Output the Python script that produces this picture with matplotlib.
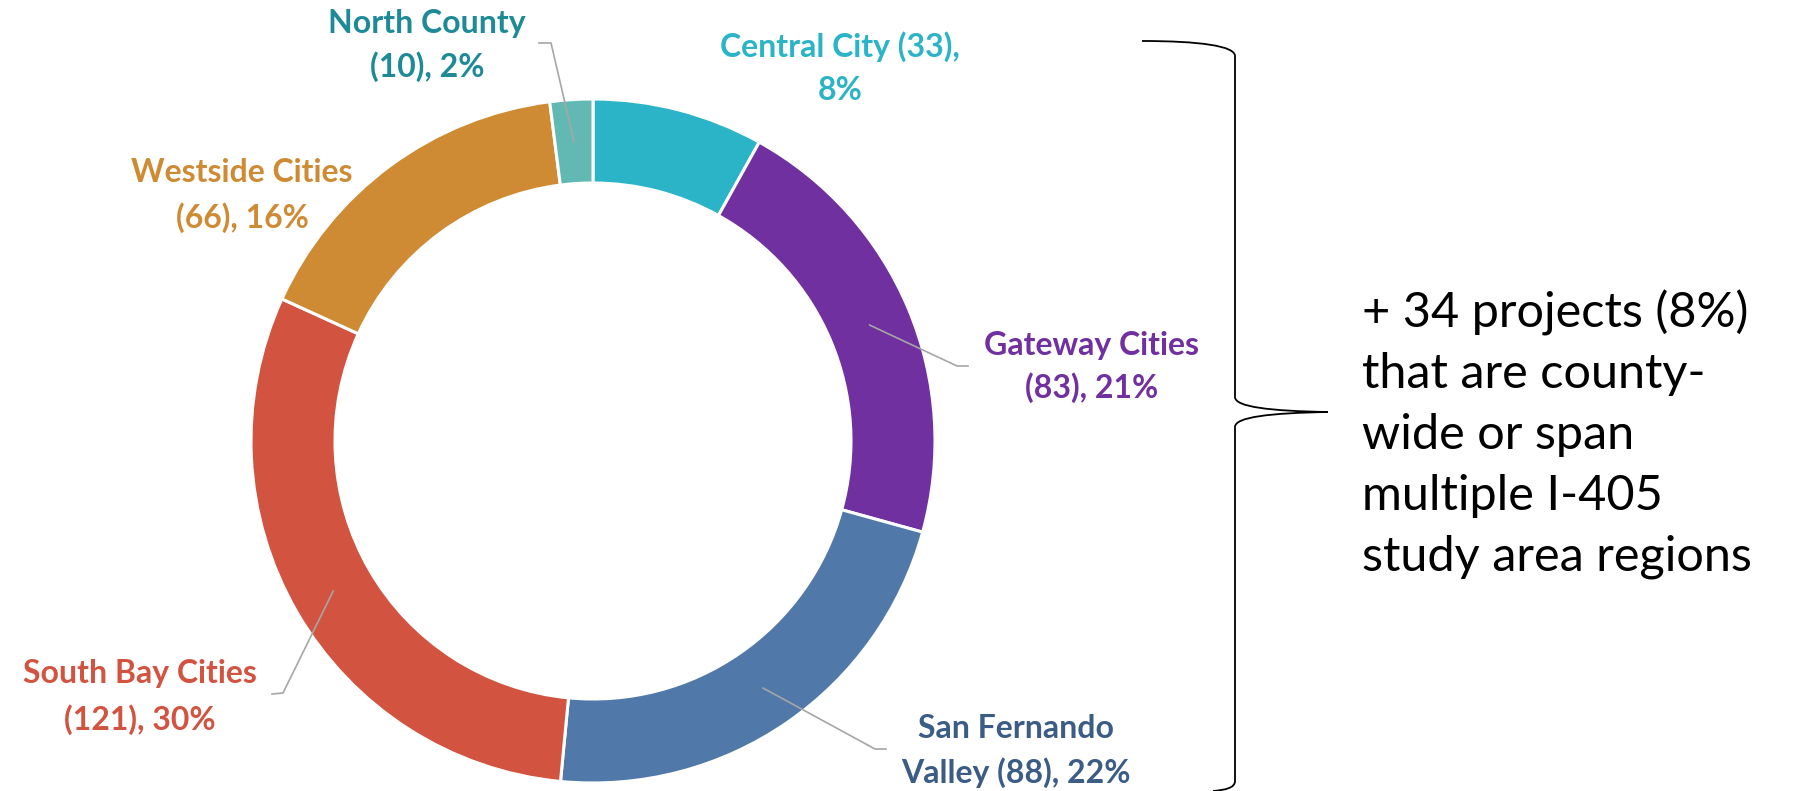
import matplotlib
matplotlib.use("Agg")
import matplotlib.pyplot as plt
from matplotlib.path import Path
from matplotlib.patches import PathPatch
import numpy as np

# Data (clockwise from 12 o'clock)
regions = ["Central City", "Gateway Cities", "San Fernando Valley",
           "South Bay Cities", "Westside Cities", "North County"]
projects = [33, 83, 88, 121, 66, 10]
percents = [8, 21, 22, 30, 16, 2]   # wedges are drawn from the rounded shares
wedge_colors = ["#2BB3C7", "#7030A0", "#5079A9", "#D25440", "#CF8B34", "#62B9B3"]
text_colors = ["#2BB3C7", "#7030A0", "#3B5C85", "#D25440", "#CF8B34", "#1E8A98"]
break_after = [3, 2, 2, 3, 2, 2]   # words on first label line
extra_projects = 34
extra_pct = 8

W, H = 1818, 791
def Y(y):
    return H - y

fig = plt.figure(figsize=(W / 100, H / 100), dpi=100)
ax = fig.add_axes([0, 0, 1, 1])

cx, cy, R, ring = 593, 441, 342, 84
ax.pie(percents, colors=wedge_colors, startangle=90, counterclock=False,
       radius=R, center=(cx, Y(cy)),
       wedgeprops=dict(width=ring, edgecolor="white", linewidth=2.2))
ax.set_xlim(0, W)
ax.set_ylim(0, H)
ax.set_aspect("equal")
ax.axis("off")

label_font = dict(family=["Lato", "DejaVu Sans"], fontsize=23, fontweight="bold")

# label centers (px) for line 1 / line 2, and leader elbows (None = no leader)
label_pos = [(840, 47, 90), (1092, 345, 388), (1016, 728, 773),
             (140, 673, 720), (242, 173, 218), (427, 23, 67)]
leaders = [None, [(957, 366), (968, 366)], [(875, 749), (886, 749)],
           [(283, 693), (272, 694)], None, [(551, 43), (539, 43)]]

total = sum(percents)
cum = np.cumsum([0] + percents)
for i, name in enumerate(regions):
    words = f"{name} ({projects[i]}), {percents[i]}%".split()
    line1 = " ".join(words[:break_after[i]])
    line2 = " ".join(words[break_after[i]:])
    x, y1, y2 = label_pos[i]
    ax.text(x, Y(y1), line1, ha="center", va="center", color=text_colors[i], **label_font)
    ax.text(x, Y(y2), line2, ha="center", va="center", color=text_colors[i], **label_font)
    if leaders[i] is not None:
        ang = np.deg2rad((cum[i] + percents[i] / 2) / total * 360)
        rm = R - ring / 2
        sx, sy = cx + rm * np.sin(ang), cy - rm * np.cos(ang)
        pts = [(sx, sy)] + leaders[i]
        ax.plot([p[0] for p in pts], [Y(p[1]) for p in pts], color="#A6A6A6", lw=1.2)

# curly brace
verts = [(1142, 41), (1200, 41), (1235, 46), (1235, 56),
         (1235, 397),
         (1235, 407), (1270, 411), (1328, 412),
         (1270, 413), (1235, 417), (1235, 427),
         (1235, 781),
         (1235, 788), (1225, 790), (1213, 791)]
codes = [Path.MOVETO, Path.CURVE4, Path.CURVE4, Path.CURVE4,
         Path.LINETO,
         Path.CURVE4, Path.CURVE4, Path.CURVE4,
         Path.CURVE4, Path.CURVE4, Path.CURVE4,
         Path.LINETO,
         Path.CURVE4, Path.CURVE4, Path.CURVE4]
brace = Path([(vx, Y(vy)) for vx, vy in verts], codes)
ax.add_patch(PathPatch(brace, facecolor="none", edgecolor="black", lw=1.3))

side_lines = [f"+ {extra_projects} projects ({extra_pct}%)", "that are county-",
              "wide or span", "multiple I-405", "study area regions"]
for k, s in enumerate(side_lines):
    ax.text(1362, Y(313 + 61 * k), s, ha="left", va="center", fontsize=35,
            family=["Lato", "DejaVu Sans"], color="black")

fig.savefig("out.png", dpi=100)
